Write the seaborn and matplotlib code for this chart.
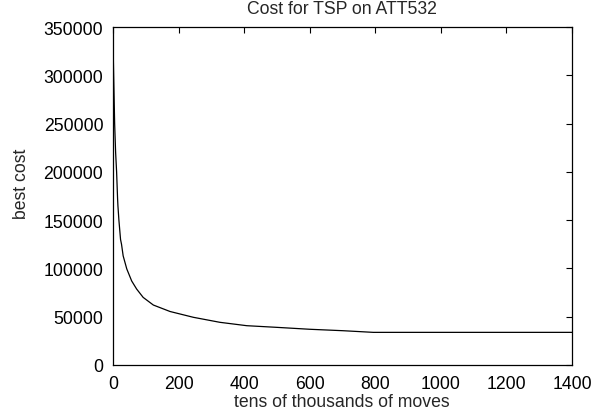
import matplotlib
matplotlib.use("Agg")
import matplotlib.pyplot as plt
import seaborn as sns
import pandas as pd

moves = [0, 2, 5, 8, 11, 14, 15, 18, 23, 26, 31, 42, 57, 72, 92, 123, 174, 245,
         326, 408, 499, 600, 702, 794, 1400]
best_cost = [335000, 300000, 250000, 220000, 200000, 172000, 165000, 150000,
             130000, 125000, 113000, 99500, 87000, 78700, 70000, 62100, 55400,
             49400, 44200, 40700, 39000, 37000, 35500, 33800, 33800]
x_ticks = [0, 200, 400, 600, 800, 1000, 1200, 1400]
y_ticks = [0, 50000, 100000, 150000, 200000, 250000, 300000, 350000]

sns.set_style("white")
plt.rcParams['font.family'] = ['Liberation Sans', 'DejaVu Sans']
FS = 12.7
plt.rcParams['font.size'] = FS

df = pd.DataFrame({"moves": moves, "cost": best_cost})

fig = plt.figure(figsize=(6.04, 4.14), dpi=100)
ax = fig.add_axes([113/604, 1 - 366/414, (572 - 113)/604, (366 - 28)/414])
sns.lineplot(data=df, x="moves", y="cost", ax=ax, color="black", linewidth=0.9)

ax.set_xlim(0, 1400)
ax.set_ylim(0, 350000)
ax.set_xticks(x_ticks)
ax.set_yticks(y_ticks)
ax.set_xticklabels([str(v) for v in x_ticks])
ax.set_yticklabels([str(v) for v in y_ticks])
ax.tick_params(direction="in", length=4, width=0.8, top=True, right=True,
               colors="black", labelsize=FS)
ax.tick_params(axis="y", pad=7)
ax.tick_params(axis="x", pad=7)
for s in ax.spines.values():
    s.set_visible(True)
    s.set_color("black")
    s.set_linewidth(0.9)
ax.set_xlabel("")
ax.set_ylabel("")

fig.text(342/604, 1 - 10/414, "Cost for TSP on ATT532", ha="center", va="center", fontsize=FS)
fig.text(342/604, 1 - 403/414, "tens of thousands of moves", ha="center", va="center", fontsize=FS)
fig.text(22/604, 1 - 184/414, "best cost", ha="center", va="center", rotation=90, fontsize=FS)

fig.savefig("out.png", dpi=100)
